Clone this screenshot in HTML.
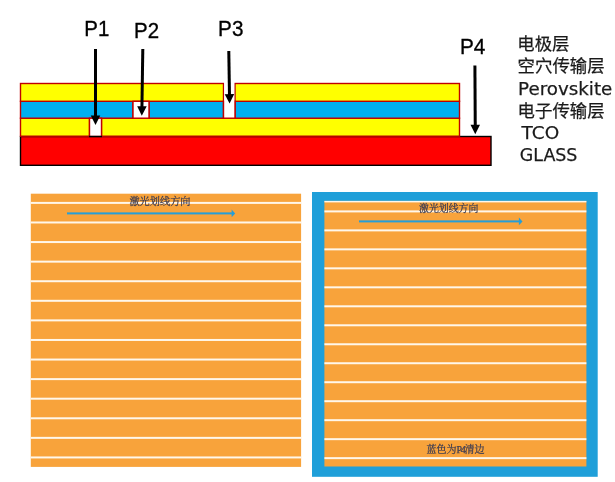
<!DOCTYPE html>
<html lang="zh">
<head>
<meta charset="utf-8">
<title>P1 P2 P3 P4</title>
<style>
html,body{margin:0;padding:0;background:#fff;}
body{width:615px;height:482px;overflow:hidden;}
svg{display:block;}
.pl{font-family:"Liberation Sans",sans-serif;fill:#000;stroke:#000;stroke-width:0.35px;}
.rl{font-family:"Liberation Sans","Noto Sans CJK SC",sans-serif;font-size:17.4px;fill:#1a1a1a;stroke:#1a1a1a;stroke-width:0.25px;}
.rl.en{font-family:"DejaVu Sans","Liberation Sans",sans-serif;font-size:18.2px;}
.sm{font-family:"Liberation Serif","Noto Serif CJK SC",serif;fill:#3c3c52;stroke:#3c3c52;stroke-width:0.25px;}
.p4{letter-spacing:-1.3px;}
</style>
</head>
<body>
<svg width="615" height="482" viewBox="0 0 615 482">
<rect x="20.5" y="136.5" width="470.5" height="28.8" fill="#ff0000" stroke="#000" stroke-width="1.4"/>
<rect x="20.5" y="118.2" width="69" height="18" fill="#ffff00" stroke="#c00000" stroke-width="1.4"/>
<rect x="101.5" y="118.2" width="358" height="18" fill="#ffff00" stroke="#c00000" stroke-width="1.4"/>
<rect x="20.5" y="101.3" width="112.5" height="16.9" fill="#00b0f0" stroke="#c00000" stroke-width="1.4"/>
<rect x="149" y="101.3" width="74.5" height="16.9" fill="#00b0f0" stroke="#c00000" stroke-width="1.4"/>
<rect x="235" y="101.3" width="224.5" height="16.9" fill="#00b0f0" stroke="#c00000" stroke-width="1.4"/>
<rect x="20.5" y="83.5" width="203" height="17.8" fill="#ffff00" stroke="#c00000" stroke-width="1.4"/>
<rect x="235" y="83.5" width="224.5" height="17.8" fill="#ffff00" stroke="#c00000" stroke-width="1.4"/>
<rect x="133" y="101.3" width="16" height="16.9" fill="#fff" stroke="#c00000" stroke-width="1.4"/>
<rect x="89.5" y="118.2" width="12" height="18.3" fill="#fff" stroke="#c00000" stroke-width="1.4"/>
<rect x="223.5" y="101.3" width="11.5" height="16.9" fill="#fff" stroke="#c00000" stroke-width="1.4"/>
<rect x="224.2" y="82" width="10.1" height="20" fill="#fff"/>
<line x1="89" y1="136.5" x2="102" y2="136.5" stroke="#000" stroke-width="1.4"/>
<line x1="95.5" y1="49" x2="95.5" y2="116.5" stroke="#000" stroke-width="3"/>
<polygon points="95.5,125 90.75,115.5 100.25,115.5" fill="#000"/>
<line x1="142.8" y1="49" x2="141.93" y2="107.3" stroke="#000" stroke-width="3"/>
<polygon points="141.8,115.8 137.19,106.23 146.69,106.37" fill="#000"/>
<line x1="228.8" y1="51" x2="229.47" y2="95.1" stroke="#000" stroke-width="3"/>
<polygon points="229.6,103.6 224.71,94.17 234.2,94.03" fill="#000"/>
<line x1="474.9" y1="65.5" x2="475.25" y2="125.8" stroke="#000" stroke-width="3"/>
<polygon points="475.3,134.3 470.49,124.83 479.99,124.77" fill="#000"/>
<rect x="30.8" y="193.7" width="270.3" height="273.2" fill="#f8a33b"/>
<rect x="30.8" y="201.9" width="270.3" height="2" fill="#fff7ea"/>
<rect x="30.8" y="221.48" width="270.3" height="2" fill="#fff7ea"/>
<rect x="30.8" y="241.06" width="270.3" height="2" fill="#fff7ea"/>
<rect x="30.8" y="260.64" width="270.3" height="2" fill="#fff7ea"/>
<rect x="30.8" y="280.22" width="270.3" height="2" fill="#fff7ea"/>
<rect x="30.8" y="299.8" width="270.3" height="2" fill="#fff7ea"/>
<rect x="30.8" y="319.38" width="270.3" height="2" fill="#fff7ea"/>
<rect x="30.8" y="338.96" width="270.3" height="2" fill="#fff7ea"/>
<rect x="30.8" y="358.54" width="270.3" height="2" fill="#fff7ea"/>
<rect x="30.8" y="378.12" width="270.3" height="2" fill="#fff7ea"/>
<rect x="30.8" y="397.7" width="270.3" height="2" fill="#fff7ea"/>
<rect x="30.8" y="417.28" width="270.3" height="2" fill="#fff7ea"/>
<rect x="30.8" y="436.86" width="270.3" height="2" fill="#fff7ea"/>
<rect x="30.8" y="456.44" width="270.3" height="2" fill="#fff7ea"/>
<rect x="312" y="192" width="285.7" height="284.8" fill="#1f9fd9"/>
<rect x="324.4" y="200.9" width="262" height="265.6" fill="#f8a33b"/>
<rect x="324.4" y="200.9" width="262" height="1.5" fill="#fff7ea"/>
<rect x="324.4" y="210.4" width="262" height="2" fill="#fff7ea"/>
<rect x="324.4" y="229.38" width="262" height="2" fill="#fff7ea"/>
<rect x="324.4" y="248.36" width="262" height="2" fill="#fff7ea"/>
<rect x="324.4" y="267.34" width="262" height="2" fill="#fff7ea"/>
<rect x="324.4" y="286.32" width="262" height="2" fill="#fff7ea"/>
<rect x="324.4" y="305.3" width="262" height="2" fill="#fff7ea"/>
<rect x="324.4" y="324.28" width="262" height="2" fill="#fff7ea"/>
<rect x="324.4" y="343.26" width="262" height="2" fill="#fff7ea"/>
<rect x="324.4" y="362.24" width="262" height="2" fill="#fff7ea"/>
<rect x="324.4" y="381.22" width="262" height="2" fill="#fff7ea"/>
<rect x="324.4" y="400.2" width="262" height="2" fill="#fff7ea"/>
<rect x="324.4" y="419.18" width="262" height="2" fill="#fff7ea"/>
<rect x="324.4" y="438.16" width="262" height="2" fill="#fff7ea"/>
<rect x="324.4" y="457.14" width="262" height="2" fill="#fff7ea"/>
<rect x="67" y="212.4" width="165.2" height="2" fill="#259ed8"/>
<polygon points="235.2,213.4 231.6,209.6 231.6,217.2" fill="#259ed8"/>
<rect x="359" y="220.4" width="160.5" height="2" fill="#259ed8"/>
<polygon points="522.5,221.4 518.9,217.6 518.9,225.2" fill="#259ed8"/>
<text class="pl" x="84.3" y="36" font-size="22.2" textLength="25" lengthAdjust="spacingAndGlyphs">P1</text>
<text class="pl" x="134.0" y="38.3" font-size="22.2" textLength="25" lengthAdjust="spacingAndGlyphs">P2</text>
<text class="pl" x="218.1" y="36" font-size="22.5" textLength="25.3" lengthAdjust="spacingAndGlyphs">P3</text>
<text class="pl" x="459.9" y="54.2" font-size="22.5" textLength="25.4" lengthAdjust="spacingAndGlyphs">P4</text>
<text class="rl" x="517.3" y="50.3">电极层</text>
<text class="rl" x="517.6" y="72.3">空穴传输层</text>
<text class="rl en" x="518.1" y="95" textLength="94.2" lengthAdjust="spacingAndGlyphs">Perovskite</text>
<text class="rl" x="517.6" y="117">电子传输层</text>
<text class="rl en" x="521.6" y="139.3" textLength="37.6" lengthAdjust="spacingAndGlyphs">TCO</text>
<text class="rl en" x="519.8" y="161.2" textLength="57.6" lengthAdjust="spacingAndGlyphs">GLASS</text>
<text class="sm" x="129.4" y="204.5" font-size="10.2">激光划线方向</text>
<text class="sm" x="419" y="212.3" font-size="9.9">激光划线方向</text>
<text class="sm" x="426.5" y="453" font-size="10">蓝色为<tspan class="p4">P4</tspan>清边</text>
</svg>
</body>
</html>
